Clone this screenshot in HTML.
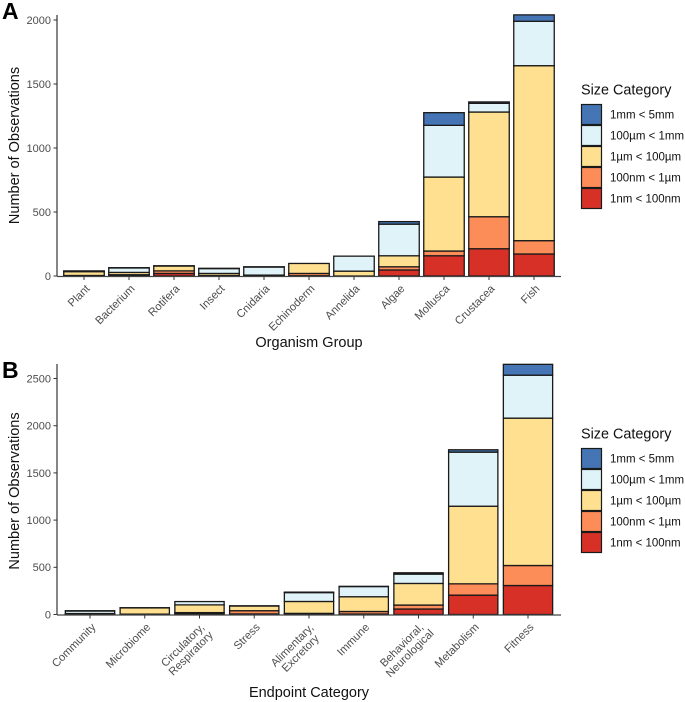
<!DOCTYPE html>
<html>
<head>
<meta charset="utf-8">
<style>
html,body{margin:0;padding:0;background:#fff;}
svg{display:block;font-family:"Liberation Sans",Arial,sans-serif;}
</style>
</head>
<body>
<svg id="chart" xmlns="http://www.w3.org/2000/svg" width="685" height="702" viewBox="0 0 685 702"></svg>
<script>
const sizeLabels = ['1nm < 100nm', '100nm < 1µm', '1µm < 100µm', '100µm < 1mm', '1mm < 5mm'];
const sizeColors = ['#d73027', '#fc8d59', '#fee090', '#e0f3f8', '#4575b4'];

const organismGroups = ['Plant', 'Bacterium', 'Rotifera', 'Insect', 'Cnidaria', 'Echinoderm', 'Annelida', 'Algae', 'Mollusca', 'Crustacea', 'Fish'];
const organismNano1 = [2, 8, 20, 2, 5, 2, 0, 47, 158, 213, 172];
const organismNano2 = [2, 2, 20, 2, 0, 18, 0, 25, 37, 250, 104];
const organismMicro1 = [30, 18, 38, 16, 2, 78, 38, 86, 578, 818, 1367];
const organismMicro2 = [3, 35, 2, 38, 63, 0, 117, 247, 404, 68, 347];
const organismMilli = [3, 2, 0, 2, 2, 0, 0, 20, 99, 11, 50];
const organismTicks = [0, 500, 1000, 1500, 2000];

const endpointGroups = [['Community'], ['Microbiome'], ['Circulatory,', 'Respiratory'], ['Stress'], ['Alimentary,', 'Excretory'], ['Immune'], ['Behavioral,', 'Neurological'], ['Metabolism'], ['Fitness']];
const endpointNano1 = [3, 2, 10, 6, 6, 5, 58, 205, 307];
const endpointNano2 = [1, 2, 10, 34, 6, 27, 42, 120, 212];
const endpointMicro1 = [6, 66, 82, 50, 126, 156, 229, 822, 1561];
const endpointMicro2 = [27, 0, 35, 0, 94, 108, 99, 573, 455];
const endpointMilli = [3, 2, 0, 2, 5, 2, 14, 25, 115];
const endpointTicks = [0, 500, 1000, 1500, 2000, 2500];

const svg = document.getElementById('chart');
const NS = 'http://www.w3.org/2000/svg';

function mk(tag, attrs, parent) {
  const el = document.createElementNS(NS, tag);
  for (const k in attrs) el.setAttribute(k, attrs[k]);
  (parent || svg).appendChild(el);
  return el;
}

function drawPanel(cfg) {
  const g = mk('g', {});
  
  
  const yScale = function (v) { return cfg.y0 - v * cfg.yPerUnit; };
  const xScale = function (i) { return cfg.x0 + i * cfg.step; };
  const barW = cfg.step * 0.9;

  cfg.categories.forEach(function (cat, i) {
    let acc = 0;
    cfg.series.forEach(function (vals, s) {
      const v = vals[i];
      if (v <= 0) return;
      const r = mk('rect', {
        x: xScale(i) - barW / 2,
        y: yScale(acc + v),
        width: barW,
        height: v * cfg.yPerUnit,
        fill: sizeColors[s],
        stroke: '#1a1a1a',
        'stroke-width': 1.3
      }, g);
      
      
      acc += v;
    });
  });

  const yAxis = mk('line', { x1: cfg.axisX, x2: cfg.axisX, y1: cfg.top, y2: cfg.y0 + 0.5, stroke: '#444', 'stroke-width': 1.3 }, g);
  
  
  const xAxis = mk('line', { x1: cfg.axisX, x2: cfg.right, y1: cfg.y0 + 0.5, y2: cfg.y0 + 0.5, stroke: '#444', 'stroke-width': 1.3 }, g);
  
  

  cfg.ticks.forEach(function (t) {
    const y = yScale(t);
    const tk = mk('line', { x1: cfg.axisX - 3.5, x2: cfg.axisX, y1: y, y2: y, stroke: '#333', 'stroke-width': 1 }, g);
    
    
    const lb = mk('text', { x: cfg.axisX - 6, y: y + 3.9, 'text-anchor': 'end', 'font-size': 11, fill: '#4d4d4d' }, g);
    
    
    lb.textContent = String(t);
  });

  cfg.categories.forEach(function (cat, i) {
    const x = xScale(i);
    const tk = mk('line', { x1: x, x2: x, y1: cfg.y0 + 0.5, y2: cfg.y0 + 4, stroke: '#333', 'stroke-width': 1 }, g);
    
    
    const lines = Array.isArray(cat) ? cat : [cat];
    lines.forEach(function (line, j) {
      const offset = (j - (lines.length - 1) / 2) * 11.5;
      const lb = mk('text', {
        x: 0, y: offset + 4,
        'text-anchor': lines.length > 1 ? 'middle' : 'end',
        'font-size': 11.2, fill: '#4d4d4d',
        transform: lines.length > 1
          ? 'translate(' + (x + 9 - 22) + ',' + (cfg.y0 + 12.5 + 22) + ') rotate(-45)'
          : 'translate(' + (x + 3.5) + ',' + (cfg.y0 + 10.5) + ') rotate(-45)'
      }, g);
      
      
      lb.textContent = line;
    });
  });

  const xt = mk('text', { x: cfg.xTitleX, y: cfg.xTitleY, 'text-anchor': 'middle', 'font-size': 14.5, fill: '#111' }, g);
  
  
  xt.textContent = cfg.xTitle;

  const yt = mk('text', { x: 0, y: 0, 'text-anchor': 'middle', 'font-size': 14.5, fill: '#111', transform: 'translate(19,' + cfg.yTitleY + ') rotate(-90)' }, g);
  
  
  yt.textContent = 'Number of Observations';

  const letter = mk('text', { x: 2, y: cfg.letterY, 'font-size': 23, 'font-weight': 'bold', fill: '#000' }, g);
  
  
  letter.textContent = cfg.letter;

  const lg = mk('g', {}, g);
  
  
  const lt = mk('text', { x: 581, y: cfg.legendY - 9.5, 'font-size': 14.4, fill: '#111' }, lg);
  
  
  lt.textContent = 'Size Category';
  for (let s = sizeLabels.length - 1; s >= 0; s--) {
    const row = sizeLabels.length - 1 - s;
    const ky = cfg.legendY + row * 21;
    const key = mk('rect', { x: 581.5, y: ky + 0.5, width: 20, height: 20, fill: sizeColors[s], stroke: '#1a1a1a', 'stroke-width': 1.2 }, lg);
    
    
    const tx = mk('text', { x: 610, y: ky + 14.5, 'font-size': 11.5, fill: '#111' }, lg);
    
    
    tx.textContent = sizeLabels[s];
  }
}

drawPanel({
  name: 'panel-a-organism-chart', letter: 'A', letterY: 19,
  categories: organismGroups,
  series: [organismNano1, organismNano2, organismMicro1, organismMicro2, organismMilli],
  ticks: organismTicks,
  x0: 84, step: 45, y0: 276, yPerUnit: 0.128, axisX: 57, right: 561, top: 15,
  xTitle: 'Organism Group', xTitleX: 309, xTitleY: 347, yTitleY: 145.5,
  legendY: 104
});

drawPanel({
  name: 'panel-b-endpoint-chart', letter: 'B', letterY: 378,
  categories: endpointGroups,
  series: [endpointNano1, endpointNano2, endpointMicro1, endpointMicro2, endpointMilli],
  ticks: endpointTicks,
  x0: 90, step: 54.75, y0: 614.5, yPerUnit: 0.0944, axisX: 57, right: 561, top: 364,
  xTitle: 'Endpoint Category', xTitleX: 309, xTitleY: 697, yTitleY: 491,
  legendY: 448
});
</script>
</body>
</html>
